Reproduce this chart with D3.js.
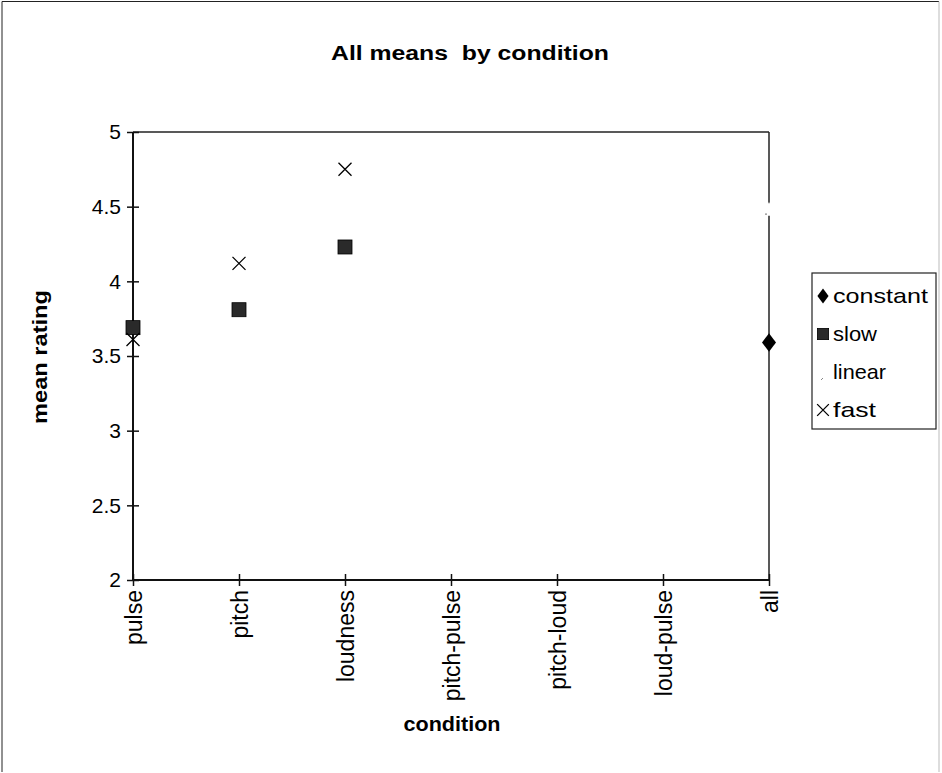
<!DOCTYPE html>
<html><head><meta charset="utf-8">
<script src="https://cdn.jsdelivr.net/npm/d3@7"></script>
<style>body{margin:0;background:#fff}svg{display:block;font-family:"Liberation Sans",Arial,sans-serif}</style>
</head><body>
<svg id="c" width="942" height="773"></svg>
<script>
const categories = ["pulse","pitch","loudness","pitch-pulse","pitch-loud","loud-pulse","all"];
const constantVals = [null,null,null,null,null,null,3.59];
const slowVals = [3.69,3.81,4.23,null,null,null,null];
const linearVals = [null,null,null,null,null,null,4.47];
const fastVals = [3.61,4.12,4.75,null,null,null,null];
const yTicks = [2,2.5,3,3.5,4,4.5,5];
const seriesNames = ["constant","slow","linear","fast"];

const svg = d3.select("#c");
const L = 133, R = 769, T = 132, B = 580;
const x = d3.scalePoint().domain(categories).range([L, R]).padding(0);
const y = d3.scaleLinear().domain([2,5]).range([B, T]);

// outer frame
svg.append("path").attr("d","M2,772 L2,1.5 L939,1.5").attr("fill","none").attr("stroke","#222").attr("stroke-width",1);
svg.append("line").attr("x1",939).attr("x2",939).attr("y1",1.5).attr("y2",772).attr("stroke","#bbb").attr("stroke-width",1);

// title
svg.append("text").attr("x",470).attr("y",60).attr("text-anchor","middle").attr("font-weight","bold").attr("font-size",20)
  .attr("textLength",278).attr("lengthAdjust","spacingAndGlyphs").style("white-space","pre").text("All means  by condition");

// plot border top/right
svg.append("line").attr("x1",L).attr("x2",R).attr("y1",T).attr("y2",T).attr("stroke","#222").attr("stroke-width",1.5);
svg.append("line").attr("x1",R).attr("x2",R).attr("y1",T).attr("y2",B).attr("stroke","#222").attr("stroke-width",1.5);

// axes
const yAxis = d3.axisLeft(y).tickValues(yTicks).tickSize(6).tickFormat(d=>String(d));
const gy = svg.append("g").attr("transform",`translate(${L},0)`).call(yAxis);
gy.attr("font-size",null).attr("font-family",null);
gy.select(".domain").attr("stroke","#111").attr("stroke-width",2).attr("d",`M0,${T}V${B}`);
gy.selectAll(".tick line").attr("x1",6).attr("x2",-6).attr("stroke","#111").attr("stroke-width",1.5);
gy.selectAll(".tick text").attr("x",-12).attr("font-size",21).attr("fill","#000");

const xAxis = d3.axisBottom(x).tickSize(6);
const gx = svg.append("g").attr("transform",`translate(0,${B})`).call(xAxis);
gx.attr("font-size",null).attr("font-family",null);
gx.select(".domain").attr("stroke","#111").attr("stroke-width",2).attr("d",`M${L},0H${R}`);
gx.selectAll(".tick line").attr("y1",-6).attr("y2",6).attr("stroke","#111").attr("stroke-width",1.5);
gx.selectAll(".tick text").attr("font-size",23).attr("fill","#000")
  .attr("transform","rotate(-90)").attr("x",-10).attr("y",0).attr("dy","0.35em").attr("text-anchor","end");

// axis titles
svg.append("text").attr("transform","translate(47,357) rotate(-90)").attr("text-anchor","middle").attr("font-weight","bold").attr("font-size",20)
  .attr("textLength",134).attr("lengthAdjust","spacingAndGlyphs").text("mean rating");
svg.append("text").attr("x",452).attr("y",731).attr("text-anchor","middle").attr("font-weight","bold").attr("font-size",21)
  .attr("textLength",97).attr("lengthAdjust","spacingAndGlyphs").text("condition");

// marker drawers
function drawMarker(g, name, cx, cy, s) {
  s = s || 1;
  if (name === "constant") {
    g.append("path").attr("d", d3.symbol(d3.symbolDiamond, 100*s*s)()).attr("transform",`translate(${cx},${cy}) scale(1.3,1)`).attr("fill","#000");
  } else if (name === "slow") {
    const h = 7*s;
    g.append("rect").attr("x",cx-h).attr("y",cy-h).attr("width",2*h).attr("height",2*h).attr("fill","#2a2a2a").attr("stroke","#000").attr("stroke-width",0.8);
  } else if (name === "linear") {
    g.append("path").attr("d", d3.symbol(d3.symbolTriangle, 110*s*s)()).attr("transform",`translate(${cx},${cy})`).attr("fill","#fff").attr("stroke","none");
    g.append("circle").attr("cx",cx-3*s).attr("cy",cy+3*s).attr("r",0.8).attr("fill","#777");
  } else if (name === "fast") {
    const h = 6.5*s;
    g.append("path").attr("d",`M${cx-h},${cy-h}L${cx+h},${cy+h}M${cx+h},${cy-h}L${cx-h},${cy+h}`).attr("stroke","#000").attr("stroke-width",1.3).attr("fill","none");
  }
}

const allSeries = [["constant",constantVals],["slow",slowVals],["linear",linearVals],["fast",fastVals]];
const gm = svg.append("g");
allSeries.forEach(([name, vals]) => {
  vals.forEach((v,i) => { if (v != null) drawMarker(gm, name, x(categories[i]), y(v)); });
});

// legend
const lg = svg.append("g");
lg.append("rect").attr("x",812).attr("y",273).attr("width",124).attr("height",156).attr("fill","#fff").attr("stroke","#222").attr("stroke-width",1.2);
const legendTextLen = {constant:95, slow:44, linear:53, fast:43};
seriesNames.forEach((n,i) => {
  const cy = 296 + i*38;
  if (n === "linear") {
    lg.append("path").attr("d",`M${821},${cy+8}L${823},${cy+6}`).attr("stroke","#888").attr("stroke-width",1);
  } else {
    drawMarker(lg, n, 823, cy, n === "fast" ? 0.9 : 0.8);
  }
  lg.append("text").attr("x",833).attr("y",cy).attr("dy","0.35em").attr("font-size",21)
    .attr("textLength",legendTextLen[n]).attr("lengthAdjust","spacingAndGlyphs").text(n);
});
</script>
</body></html>
